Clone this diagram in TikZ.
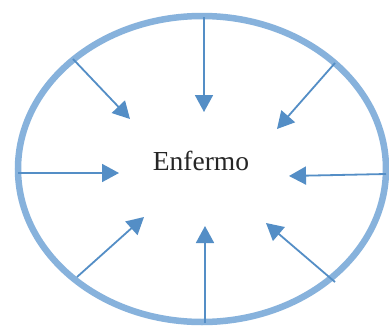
\documentclass[tikz,border=0pt]{standalone}
\usepackage{fontspec}
\setmainfont{Liberation Serif}
\usetikzlibrary{arrows.meta}
\definecolor{ringblue}{RGB}{135,178,220}
\definecolor{arrowblue}{RGB}{84,142,198}
\tikzset{
  ring/.style={draw=ringblue, line width=6.5pt},
  inarrow/.style={draw=arrowblue, line width=1.8pt, -{Triangle[length=17pt,width=18pt]}},
  label/.style={font=\fontsize{27.5}{32}\selectfont, text=black!85}
}
\begin{document}
\begin{tikzpicture}[x=1pt,y=-1pt]
\useasboundingbox (0,0) rectangle (389,327);
\fill[white] (0,0) rectangle (389,327);
\draw[ring] (202,169) ellipse [x radius=184, y radius=153];
\node[label] (c) at (201,161) {Enfermo};
% start points on ring
\coordinate (sT) at (204,17);
\coordinate (sTL) at (73,59);
\coordinate (sTR) at (335,63);
\coordinate (sL) at (18,173);
\coordinate (sR) at (386,174);
\coordinate (sBL) at (77,277);
\coordinate (sB) at (205,323);
\coordinate (sBR) at (335,282);
% tips
\coordinate (eT) at (204,112);
\coordinate (eTL) at (130,119);
\coordinate (eTR) at (277,129);
\coordinate (eL) at (119,173);
\coordinate (eR) at (289,176);
\coordinate (eBL) at (144,217);
\coordinate (eB) at (205,226);
\coordinate (eBR) at (266,223);
\foreach \d in {T,TL,TR,L,R,BL,B,BR}{
  \draw[inarrow] (s\d) -- (e\d);
}
\end{tikzpicture}
\end{document}
